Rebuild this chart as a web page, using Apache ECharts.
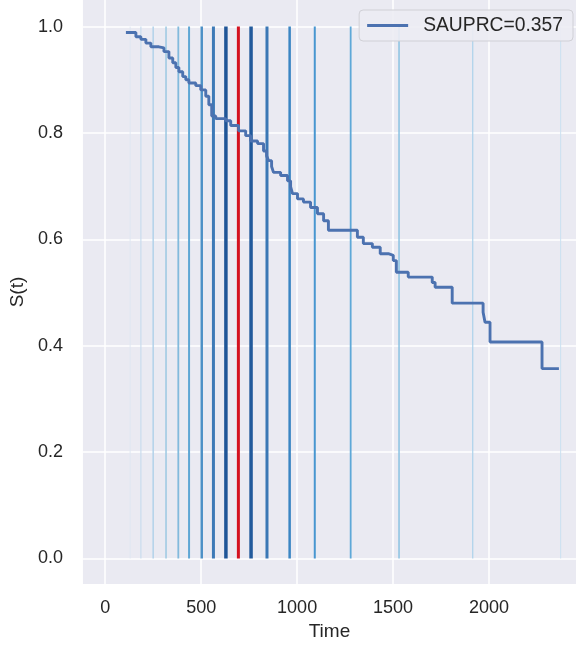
<!DOCTYPE html>
<html>
<head>
<meta charset="utf-8">
<script src="https://cdn.jsdelivr.net/npm/echarts@6/dist/echarts.min.js"></script>
<style>
html,body{margin:0;padding:0;background:#ffffff;}
#chart{width:576px;height:651px;}
</style>
</head>
<body>
<div id="chart"></div>
<script>
// Survival curve (step, post)
const times = [108, 134, 160, 186, 212, 238, 280, 306, 332, 352, 368, 384, 404, 420, 436, 472, 498, 524, 540, 555, 576, 628, 654, 695, 732, 758, 794, 825, 841, 851, 867, 877, 914, 950, 966, 976, 1002, 1033, 1070, 1106, 1138, 1163, 1314, 1345, 1392, 1433, 1475, 1501, 1517, 1579, 1704, 1719, 1808, 1969, 1979, 2005, 2276, 2364];
const survival = [0.989, 0.989, 0.981, 0.976, 0.969, 0.962, 0.960, 0.953, 0.941, 0.932, 0.923, 0.915, 0.906, 0.900, 0.894, 0.889, 0.881, 0.869, 0.853, 0.832, 0.827, 0.823, 0.814, 0.804, 0.795, 0.785, 0.780, 0.766, 0.757, 0.748, 0.737, 0.726, 0.720, 0.710, 0.699, 0.686, 0.676, 0.670, 0.660, 0.648, 0.635, 0.617, 0.604, 0.592, 0.585, 0.573, 0.570, 0.560, 0.538, 0.529, 0.519, 0.510, 0.480, 0.463, 0.444, 0.407, 0.357, 0.357];
const curveName = 'SAUPRC=0.357';

// Vertical reference lines
const cutTimes  = [130, 186, 250, 317, 381, 437, 503, 564, 629, 694, 760, 843, 961, 1092, 1279, 1531, 1915, 2373];
const cutColors = ['#dfe7f2', '#c9ddef', '#b2d2ea', '#9bc8e2', '#82badc', '#5ea6d4', '#4c90c6', '#3d7ab7', '#1f5597', '#d4111f', '#225a9c', '#3a77b5', '#3a85c3', '#4896d0', '#5ea8d8', '#8ac2e2', '#acd2eb', '#cbe1f1'];
const cutWidths = [1, 1.2, 1.5, 1.5, 1.8, 2, 2.5, 3, 3.5, 3, 3.5, 3, 2.5, 2, 1.8, 1.5, 1.2, 1];

// Ticks
const xTicks = [0, 500, 1000, 1500, 2000];
const yTicks = [0, 0.2, 0.4, 0.6, 0.8, 1.0];

const font = "'Liberation Sans', Arial, sans-serif";
const chart = echarts.init(document.getElementById('chart'));

const series = cutTimes.map((t, i) => ({
  type: 'line',
  data: [[t, 0], [t, 1]],
  symbol: 'none',
  silent: true,
  z: 2,
  lineStyle: { color: cutColors[i], width: cutWidths[i], cap: 'butt' },
  animation: false
}));
series.push({
  name: curveName,
  type: 'line',
  step: 'end',
  data: times.map((t, i) => [t, survival[i]]),
  symbol: 'none',
  z: 5,
  lineStyle: { color: '#4c72b0', width: 2.9 },
  itemStyle: { color: '#4c72b0' },
  animation: false
});

chart.setOption({
  animation: false,
  backgroundColor: '#ffffff',
  grid: { left: 82, right: 0, top: -1, bottom: 67, show: true, backgroundColor: '#eaeaf2', borderWidth: 0 },
  xAxis: {
    type: 'value', min: -116, max: 2453,
    name: 'Time', nameLocation: 'middle', nameGap: 38,
    nameTextStyle: { color: '#262626', fontSize: 19, fontFamily: font },
    axisLine: { show: false },
    axisTick: { show: false, customValues: xTicks },
    axisLabel: { customValues: xTicks, color: '#262626', fontSize: 18, fontFamily: font, margin: 15,
      formatter: v => String(v) },
    splitLine: { show: true, lineStyle: { color: '#ffffff', width: 1.5 } }
  },
  yAxis: {
    type: 'value', min: -0.048, max: 1.05,
    name: 'S(t)', nameLocation: 'middle', nameGap: 52, nameRotate: 90,
    nameTextStyle: { color: '#262626', fontSize: 19, fontFamily: font },
    axisLine: { show: false },
    axisTick: { show: false, customValues: yTicks },
    axisLabel: { customValues: yTicks, color: '#262626', fontSize: 18, fontFamily: font, margin: 20,
      formatter: v => v.toFixed(1) },
    splitLine: { show: true, lineStyle: { color: '#ffffff', width: 1.5 } }
  },
  legend: {
    data: [curveName], right: 3, top: 10,
    icon: 'rect', itemWidth: 41, itemHeight: 3,
    padding: [6, 10, 6, 8],
    backgroundColor: 'rgba(236,236,243,0.9)', borderColor: '#d0d0d6', borderWidth: 1, borderRadius: 4,
    textStyle: { color: '#262626', fontSize: 19.3, fontFamily: font, padding: [0, 0, 0, 10] }
  },
  series: series
});
</script>
</body>
</html>
